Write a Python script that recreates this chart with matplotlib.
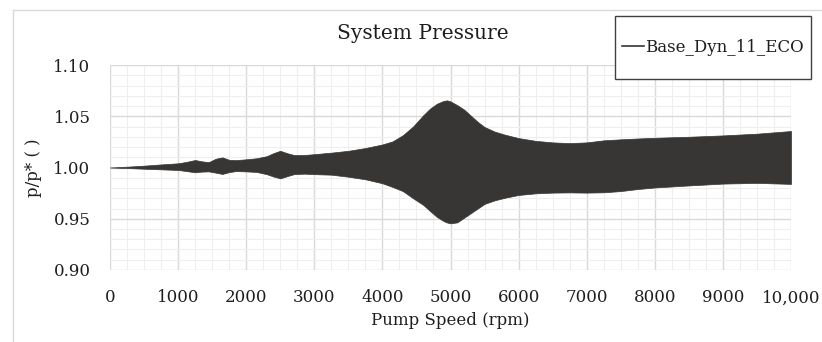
import matplotlib
matplotlib.use("Agg")
import matplotlib.pyplot as plt
from matplotlib.lines import Line2D
from matplotlib.patches import Rectangle
from matplotlib.ticker import MultipleLocator, FixedLocator
import numpy as np

plt.rcParams['font.family'] = ['DejaVu Serif']

# envelope of the pressure ratio vs pump speed
speed = [0, 250, 500, 750, 1000, 1125, 1250, 1350, 1450, 1550, 1650, 1750, 1850,
         2000, 2150, 2300, 2400, 2500, 2600, 2700, 2850, 3000, 3250, 3500, 3750,
         4000, 4150, 4300, 4450, 4600, 4700, 4800, 4900, 4950, 5000, 5100, 5200,
         5300, 5400, 5500, 5650, 5800, 6000, 6250, 6500, 6750, 7000, 7250, 7500,
         7750, 8000, 8500, 9000, 9500, 10000]
p_upper = [1.000, 1.0008, 1.0018, 1.003, 1.0041, 1.0055, 1.0073, 1.006, 1.0052,
           1.0085, 1.0099, 1.0075, 1.0072, 1.0080, 1.0090, 1.0110, 1.0140, 1.0163,
           1.0140, 1.0122, 1.0122, 1.0130, 1.0145, 1.0163, 1.019, 1.0225, 1.0255,
           1.0315, 1.040, 1.051, 1.0575, 1.0622, 1.0650, 1.0655, 1.0645, 1.0608,
           1.0565, 1.0505, 1.0445, 1.0395, 1.0350, 1.032, 1.0287, 1.026, 1.0245,
           1.0238, 1.0245, 1.0265, 1.0275, 1.0283, 1.029, 1.030, 1.0313, 1.033,
           1.0356]
p_lower = [1.000, 0.9995, 0.9988, 0.9982, 0.9976, 0.9965, 0.9953, 0.9960, 0.9962,
           0.9950, 0.9937, 0.9955, 0.9965, 0.9962, 0.9957, 0.9935, 0.9912, 0.9894,
           0.9915, 0.9935, 0.9940, 0.9935, 0.993, 0.9910, 0.9885, 0.9846, 0.981,
           0.977, 0.970, 0.9635, 0.9575, 0.9518, 0.9477, 0.9463, 0.9455, 0.9465,
           0.9510, 0.9555, 0.9600, 0.9645, 0.9680, 0.9705, 0.9732, 0.9748, 0.9755,
           0.9757, 0.9755, 0.9758, 0.9770, 0.9790, 0.9805, 0.9825, 0.9843, 0.9850,
           0.984]

x_ticks = [0, 1000, 2000, 3000, 4000, 5000, 6000, 7000, 8000, 9000, 10000]
x_labels = ['0', '1000', '2000', '3000', '4000', '5000', '6000', '7000', '8000',
            '9000', '10,000']
y_ticks = [0.90, 0.95, 1.00, 1.05, 1.10]

fill_col = '#383634'
text_col = '#1e1e1e'
W, H = 822, 342

fig = plt.figure(figsize=(W / 100, H / 100), dpi=100)
ax = fig.add_axes([110 / W, 72 / H, 681 / W, 205 / H])

ax.fill_between(speed, p_lower, p_upper, color=fill_col, linewidth=0.5,
                edgecolor=fill_col, zorder=3)

ax.set_xlim(0, 10000)
ax.set_ylim(0.90, 1.10)
ax.xaxis.set_major_locator(FixedLocator(x_ticks))
ax.set_xticklabels(x_labels)
ax.set_yticks(y_ticks)
ax.set_yticklabels([f'{v:.2f}' for v in y_ticks])
ax.xaxis.set_minor_locator(MultipleLocator(250))
ax.yaxis.set_minor_locator(MultipleLocator(0.01))
ax.grid(which='major', color='#d9d9d9', linewidth=1.0, zorder=1)
ax.grid(which='minor', color='#eeeeee', linewidth=0.8, zorder=0)
ax.set_axisbelow(True)
for s in ax.spines.values():
    s.set_visible(False)
ax.tick_params(which='both', length=0, labelsize=12, colors=text_col)
ax.tick_params(axis='y', pad=14)
ax.tick_params(axis='x', pad=14)

ax.set_xlabel('Pump Speed (rpm)', fontsize=12, color=text_col, labelpad=4)
ax.set_ylabel('p/p* ( )', fontsize=12, color=text_col, labelpad=8)
fig.text(0.514, 0.903, 'System Pressure', ha='center', va='center',
         fontsize=14.5, color=text_col)

# legend box drawn separately so its padding can differ per side
fig.add_artist(Rectangle((615 / W, 1 - 79 / H), 196 / W, 63 / H,
                         transform=fig.transFigure, facecolor='white',
                         edgecolor='#404040', linewidth=1.0, zorder=5))
handle = Line2D([], [], color=fill_col, linewidth=1.2)
leg = fig.legend([handle], ['Base_Dyn_11_ECO'], loc='center',
                 bbox_to_anchor=(713 / W, 1 - 47.5 / H), fontsize=12,
                 frameon=False, handlelength=1.3, handletextpad=0.1,
                 borderpad=0.0, borderaxespad=0)
leg.set_zorder(6)
for t in leg.get_texts():
    t.set_color(text_col)

# thin chart-area border on the top and left
fig.add_artist(Line2D([13 / W, 1], [1 - 10 / H, 1 - 10 / H],
                      transform=fig.transFigure, color='#d9d9d9', linewidth=1))
fig.add_artist(Line2D([13 / W, 13 / W], [0, 1 - 10 / H],
                      transform=fig.transFigure, color='#d9d9d9', linewidth=1))

fig.savefig('out.png', dpi=100)
